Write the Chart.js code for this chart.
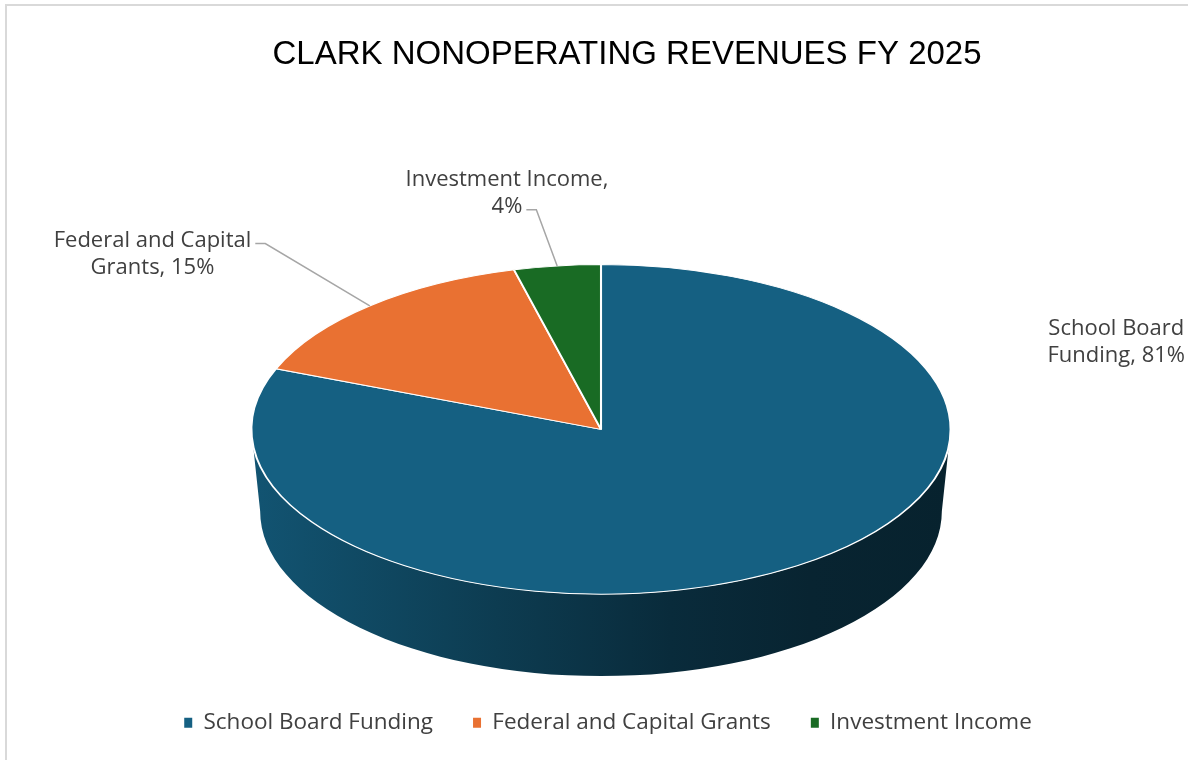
<!DOCTYPE html>
<html>
<head>
<meta charset="utf-8">
<script src="https://cdn.jsdelivr.net/npm/chart.js@4.4.1/dist/chart.umd.min.js"></script>
<style>
  html, body { margin: 0; padding: 0; background: #fff; }
  #wrap { position: relative; width: 1188px; height: 760px; overflow: hidden; }
  #frame { position: absolute; left: 5px; top: 4px; right: -10px; bottom: -10px;
           border-left: 2px solid #d9d9d9; border-top: 2px solid #d9d9d9; }
  canvas { position: absolute; left: 0; top: 0; }
</style>
</head>
<body>
<div id="wrap"><div id="frame"></div><canvas id="pie" width="1188" height="760"></canvas></div>
<script>
const chartTitle = 'CLARK NONOPERATING REVENUES FY 2025';
const categories = ['School Board Funding', 'Federal and Capital Grants', 'Investment Income'];
const shares = [81, 15, 4];
const sliceColors = ['#156082', '#E97132', '#196B24'];

// look of the fake 3d disc
const TILT = 0.4714;   // ry / rx of the top face
const DEPTH = 0.497;   // side height / ry
const TAPER = 0.975;   // bottom rim a bit narrower (perspective)
const FILL_H = 0.405;  // ry as part of the chart area height
const sideShade = [[0, 0.88], [0.35, 0.62], [0.6, 0.45], [0.8, 0.38], [1, 0.35]];

// data label block centres, in rx / ry units from the disc centre;
// wrapAt = text box width, leader = line index the leader line hooks to
const labelSpots = [
  { ux: 1.474, uy: -0.527, wrapAt: 160, leader: null },
  { ux: -1.283, uy: -1.064, wrapAt: 235, leader: 0 },
  { ux: -0.269, uy: -1.433, wrapAt: 235, leader: 1 }
];
const LABEL_FONT = "22px 'Open Sans'";

function ellipseOf(chart) {
  const a = chart.chartArea;
  const ry = (a.bottom - a.top) * FILL_H;
  return { cx: (a.left + a.right) / 2, cy: a.top + ry, rx: ry / TILT, ry, depth: ry * DEPTH };
}

function shade(hex, f) {
  const n = parseInt(hex.slice(1), 16);
  const c = [(n >> 16) & 255, (n >> 8) & 255, n & 255].map(v => Math.round(v * f));
  return 'rgb(' + c.join(',') + ')';
}

function wrap(ctx, text, max) {
  const lines = [];
  let cur = '';
  text.split(' ').forEach(w => {
    const t = cur ? cur + ' ' + w : w;
    if (cur && ctx.measureText(t).width > max) { lines.push(cur); cur = w; } else cur = t;
  });
  lines.push(cur);
  return lines;
}

function drawLabels(chart) {
  const ctx = chart.ctx, e = ellipseOf(chart);
  const arcs = chart.getDatasetMeta(0).data;
  const total = shares.reduce((s, v) => s + v, 0);
  ctx.save();
  ctx.font = LABEL_FONT;
  ctx.textAlign = 'center';
  ctx.textBaseline = 'middle';
  arcs.forEach((arc, i) => {
    const spot = labelSpots[i];
    const text = categories[i] + ', ' + Math.round(shares[i] / total * 100) + '%';
    const lines = wrap(ctx, text, spot.wrapAt);
    const bx = e.cx + spot.ux * e.rx, by = e.cy + spot.uy * e.ry;
    const lh = 27, y0 = by - (lines.length - 1) * lh / 2;
    ctx.fillStyle = '#404040';
    lines.forEach((l, k) => ctx.fillText(l, bx, y0 + k * lh));
    if (spot.leader !== null) {
      const mid = (arc.startAngle + arc.endAngle) / 2;
      const ax = e.cx + e.rx * Math.cos(mid), ay = e.cy + e.ry * Math.sin(mid);
      const lx = bx + ctx.measureText(lines[spot.leader]).width / 2 + 4;
      const ly = y0 + spot.leader * lh + 3;
      ctx.beginPath();
      ctx.moveTo(lx, ly);
      ctx.lineTo(lx + 10, ly);
      ctx.lineTo(ax, ay);
      ctx.strokeStyle = '#a6a6a6';
      ctx.lineWidth = 1.5;
      ctx.stroke();
    }
  });
  ctx.restore();
}

const pie3d = {
  id: 'pie3d',
  afterLayout(chart) {
    // Excel centres the title and legend a bit right of the disc
    chart.titleBlock.left += 26; chart.titleBlock.right += 26;
    chart.legend.left += 7; chart.legend.right += 7;
  },
  beforeDatasetsDraw(chart) {
    const ctx = chart.ctx, e = ellipseOf(chart);
    const arcs = chart.getDatasetMeta(0).data;
    arcs.forEach((arc, i) => {
      const grad = ctx.createLinearGradient(e.cx - e.rx, 0, e.cx + e.rx, 0);
      sideShade.forEach(([p, f]) => grad.addColorStop(p, shade(sliceColors[i], f)));
      [0, 2 * Math.PI, -2 * Math.PI].forEach(off => {
        const a0 = Math.max(arc.startAngle, off), a1 = Math.min(arc.endAngle, off + Math.PI);
        if (a1 <= a0) return;
        ctx.beginPath();
        ctx.ellipse(e.cx, e.cy, e.rx, e.ry, 0, a0, a1);
        ctx.ellipse(e.cx, e.cy + e.depth, e.rx * TAPER, e.ry, 0, a1, a0, true);
        ctx.closePath();
        ctx.fillStyle = grad;
        ctx.fill();
      });
    });
    const a = arcs[0];
    ctx.save();
    ctx.translate(e.cx, e.cy);
    ctx.scale(e.rx / a.outerRadius, e.ry / a.outerRadius);
    ctx.translate(-a.x, -a.y);
  },
  afterDatasetsDraw(chart) {
    chart.ctx.restore();
    drawLabels(chart);
  }
};

new Chart(document.getElementById('pie'), {
  type: 'pie',
  data: {
    labels: categories,
    datasets: [{ data: shares, backgroundColor: sliceColors, borderColor: '#ffffff', borderWidth: 1.2, clip: false }]
  },
  options: {
    responsive: false,
    animation: false,
    layout: { padding: { left: 14, right: 0, top: 0, bottom: 16 } },
    plugins: {
      title: {
        display: true, text: chartTitle, color: '#000000',
        font: { family: "'Liberation Sans'", size: 33, weight: 'normal' },
        padding: { top: 35, bottom: 190 }
      },
      legend: {
        position: 'bottom',
        labels: {
          boxWidth: 8, boxHeight: 10, padding: 40, color: '#404040',
          font: { family: "'Open Sans'", size: 22.5 },
          generateLabels: chart => Chart.overrides.doughnut.plugins.legend.labels.generateLabels(chart)
            .map(l => ({ ...l, lineWidth: 0 }))
        }
      },
      tooltip: { enabled: false }
    }
  },
  plugins: [pie3d]
});
</script>
</body>
</html>
